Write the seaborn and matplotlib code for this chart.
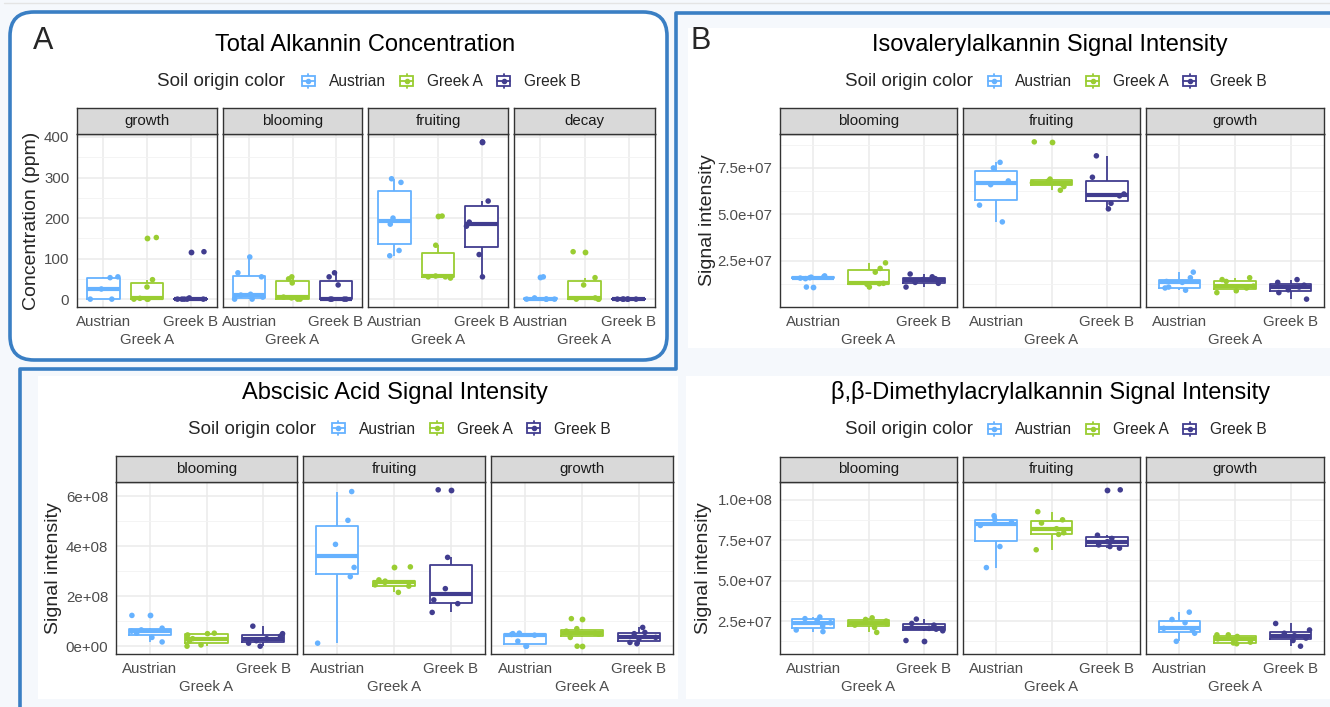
import matplotlib
matplotlib.use('Agg')

import numpy as np
import pandas as pd
import matplotlib.pyplot as plt
import seaborn as sns
from matplotlib.patches import FancyBboxPatch, Rectangle, Patch
from matplotlib.lines import Line2D
from matplotlib.legend_handler import HandlerBase
from matplotlib.ticker import FixedLocator, AutoMinorLocator, FuncFormatter

np.random.seed(7)

# DATA
SOILS = ["Austrian", "Greek A", "Greek B"]
PAL = ["#66b2ff", "#9acd32", "#413d8f"]

# total alkannin (ppm)
ALK_STAGES = ["growth", "blooming", "fruiting", "decay"]
alk_growth = [[0, 0, 25, 53, 55], [0, 0, 0, 2, 30, 48, 152], [0, 0, 0, 0, 0, 3, 117]]
alk_blooming = [[0, 0, 5, 10, 12, 55, 65, 104], [0, 0, 3, 5, 40, 50, 55], [0, 0, 0, 0, 35, 55, 65]]
alk_fruiting = [[107, 120, 185, 200, 288, 297], [52, 55, 55, 57, 133, 205], [55, 110, 180, 190, 242, 388]]
alk_decay = [[0, 0, 0, 0, 3, 55], [0, 0, 0, 3, 35, 53, 117], [0, 0, 0, 0, 0, 0]]

# isovalerylalkannin signal
ISO_STAGES = ["blooming", "fruiting", "growth"]
iso_blooming = [[1.1e7, 1.55e7, 1.58e7, 1.6e7, 1.63e7, 1.65e7, 1.7e7],
                [1.1e7, 1.25e7, 1.28e7, 1.3e7, 1.9e7, 2.1e7, 2.4e7],
                [1.1e7, 1.3e7, 1.35e7, 1.5e7, 1.55e7, 1.65e7, 1.8e7]]
iso_fruiting = [[4.6e7, 5.5e7, 6.6e7, 6.8e7, 7.5e7, 7.8e7],
                [6.3e7, 6.5e7, 6.65e7, 6.7e7, 6.8e7, 6.9e7, 8.9e7],
                [5.3e7, 5.6e7, 6.0e7, 6.1e7, 7.0e7, 8.15e7]]
iso_growth = [[0.93e7, 1.05e7, 1.1e7, 1.35e7, 1.4e7, 1.6e7, 1.9e7],
              [0.8e7, 0.9e7, 1.05e7, 1.15e7, 1.4e7, 1.5e7, 1.6e7],
              [0.45e7, 0.8e7, 0.95e7, 1.1e7, 1.2e7, 1.35e7, 1.5e7]]

# abscisic acid signal
aba_blooming = [[0.17e8, 0.35e8, 0.52e8, 0.6e8, 0.65e8, 0.72e8, 1.23e8],
                [0.0, 0.05e8, 0.2e8, 0.3e8, 0.45e8, 0.5e8, 0.52e8],
                [0.0, 0.12e8, 0.22e8, 0.3e8, 0.4e8, 0.5e8, 0.8e8]]
aba_fruiting = [[0.12e8, 2.78e8, 3.15e8, 4.07e8, 5.03e8, 6.18e8],
                [2.15e8, 2.4e8, 2.45e8, 2.55e8, 2.6e8, 2.65e8, 3.17e8],
                [1.35e8, 1.7e8, 1.85e8, 2.3e8, 3.55e8, 6.25e8]]
aba_growth = [[0.0, 0.0, 0.2e8, 0.44e8, 0.47e8, 0.5e8, 0.52e8],
              [0.0, 0.35e8, 0.48e8, 0.52e8, 0.6e8, 0.7e8, 1.1e8],
              [0.1e8, 0.15e8, 0.3e8, 0.35e8, 0.5e8, 0.55e8, 0.75e8]]

# b,b-dimethylacrylalkannin signal
dma_blooming = [[1.85e7, 1.95e7, 2.2e7, 2.4e7, 2.55e7, 2.65e7, 2.75e7],
                [1.8e7, 2.1e7, 2.25e7, 2.35e7, 2.5e7, 2.6e7, 2.7e7],
                [1.3e7, 1.9e7, 2.0e7, 2.05e7, 2.25e7, 2.35e7, 2.62e7]]
dma_fruiting = [[5.8e7, 7.1e7, 8.4e7, 8.6e7, 8.75e7, 9.0e7],
                [6.9e7, 7.85e7, 7.95e7, 8.2e7, 8.55e7, 8.75e7, 9.25e7],
                [7.0e7, 7.1e7, 7.2e7, 7.4e7, 7.6e7, 7.8e7, 10.6e7]]
dma_growth = [[1.25e7, 1.75e7, 1.95e7, 2.05e7, 2.4e7, 2.6e7, 3.05e7],
              [1.1e7, 1.15e7, 1.2e7, 1.4e7, 1.55e7, 1.65e7, 1.65e7],
              [0.95e7, 1.3e7, 1.45e7, 1.6e7, 1.75e7, 1.95e7, 2.35e7]]

# LAYOUT
W, H = 1330, 707
sns.set_style("white")
plt.rcParams["font.family"] = ["Liberation Sans", "DejaVu Sans"]

fig = plt.figure(figsize=(W / 100, H / 100), dpi=100, facecolor="#f5f8fc")
BLUE = "#3a7fc4"
TICK_FS = 10.8


def frac(x0, y0, x1, y1):
    return [x0 / W, 1 - y1 / H, (x1 - x0) / W, (y1 - y0) / H]


def fx(x):
    return x / W


def fy(y):
    return 1 - y / H


# backgrounds and frames (behind the axes)
for (x0, y0, x1, y1) in [(688, 28, 1330, 348), (38, 376, 678, 699), (686, 376, 1330, 699)]:
    fig.patches.append(Rectangle((fx(x0), fy(y1)), fx(x1) - fx(x0), fy(y0) - fy(y1),
                                 transform=fig.transFigure, facecolor="white", edgecolor="none", zorder=-2))
fig.patches.append(FancyBboxPatch((fx(10), fy(360)), fx(667) - fx(10), fy(12) - fy(360),
                                  boxstyle="round,pad=0,rounding_size=0.018",
                                  transform=fig.transFigure, facecolor="white", edgecolor=BLUE,
                                  lw=2.6, zorder=-1, mutation_aspect=W / H))
fig.lines.append(Line2D([fx(1330), fx(676), fx(676), fx(20), fx(20)],
                        [fy(13), fy(13), fy(369), fy(369), fy(707)],
                        transform=fig.transFigure, color=BLUE, lw=2.6, zorder=-1))
fig.lines.append(Line2D([fx(4), fx(1330)], [fy(3), fy(3)], transform=fig.transFigure,
                        color="#e4e4e4", lw=1, zorder=-1))


class BoxKey(HandlerBase):
    def create_artists(self, legend, orig_handle, xdescent, ydescent, width, height, fontsize, trans):
        c = orig_handle.get_edgecolor()
        x0, y0 = -xdescent, -ydescent
        cx = x0 + width / 2
        wl = Line2D([cx, cx], [y0 - 0.25 * height, y0 + 1.25 * height], color=c, lw=1.3, transform=trans)
        rect = Rectangle((x0 + 0.1 * width, y0), 0.8 * width, height, facecolor="white",
                         edgecolor=c, lw=1.3, transform=trans)
        md = Line2D([x0 + 0.1 * width, x0 + 0.9 * width], [y0 + 0.5 * height] * 2, color=c, lw=1.3, transform=trans)
        dot = Line2D([cx], [y0 + 0.5 * height], marker="o", ms=3, color=c, transform=trans)
        return [wl, rect, md, dot]


def header(title, title_x, title_y, leg_title_x, key_x, leg_y):
    fig.text(fx(title_x), fy(title_y), title, ha="center", va="center", fontsize=17, color="black")
    fig.text(fx(leg_title_x), fy(leg_y), "Soil origin color", ha="left", va="center", fontsize=13.5)
    handles = [Patch(edgecolor=c, facecolor="white") for c in PAL]
    fig.legend(handles, SOILS, handler_map={Patch: BoxKey()}, loc="center left",
               bbox_to_anchor=(fx(key_x), fy(leg_y)), ncol=3, frameon=False, fontsize=11.2,
               borderpad=0, borderaxespad=0, handlelength=1.05, handleheight=0.6,
               handletextpad=0.8, columnspacing=0.8)


def facet_row(stages, groups_list, xranges, plot_y, strip_y, yticks, fmt, ylabel, ylabel_x):
    first = None
    for stage, groups, (x0, x1) in zip(stages, groups_list, xranges):
        df = pd.DataFrame({
            "soil": np.repeat(SOILS, [len(g) for g in groups]),
            "value": np.concatenate(groups),
        })
        ax = fig.add_axes(frac(x0, plot_y[0], x1, plot_y[1]), sharey=first)
        ax.set_facecolor("white")
        sns.boxplot(data=df, x="soil", y="value", hue="soil", order=SOILS, hue_order=SOILS,
                    palette=PAL, fill=False, width=0.75, linewidth=1.3, showcaps=False,
                    medianprops={"linewidth": 3},
                    flierprops={"marker": "o", "markersize": 4.2},
                    legend=False, ax=ax)
        # ggplot style: white box fill, solid outlier dots
        for ln in list(ax.lines):
            if ln.get_marker() == "o":
                ln.set_markerfacecolor(ln.get_markeredgecolor())
                ln.set_markeredgewidth(0)
            elif len(ln.get_xdata()) == 5:
                ax.fill(ln.get_xdata(), ln.get_ydata(), color="white", zorder=ln.get_zorder() - 0.1)
        sns.stripplot(data=df, x="soil", y="value", hue="soil", order=SOILS, hue_order=SOILS,
                      palette=PAL, jitter=0.35, size=4, linewidth=0, legend=False, ax=ax, zorder=3)
        ax.set_xlim(-0.6, 2.6)
        ax.set_xlabel("")
        ax.set_ylabel("")
        # two-row category labels: middle one dodged down
        ax.xaxis.set_major_locator(FixedLocator([0, 2]))
        ax.set_xticklabels([SOILS[0], SOILS[2]])
        ax.xaxis.set_minor_locator(FixedLocator([1]))
        ax.xaxis.set_minor_formatter(FuncFormatter(lambda v, p: SOILS[1]))
        ax.yaxis.set_major_locator(FixedLocator(yticks))
        ax.yaxis.set_major_formatter(FuncFormatter(fmt))
        ax.yaxis.set_minor_locator(AutoMinorLocator(2))
        ax.set_axisbelow(True)
        ax.grid(which="major", color="#ebebeb", lw=1.1)
        ax.grid(which="minor", axis="x", color="#ebebeb", lw=1.1)
        ax.grid(which="minor", axis="y", color="#f3f3f3", lw=0.6)
        ax.tick_params(which="major", length=3.5, width=1, color="#333333", labelcolor="#4d4d4d",
                       labelsize=TICK_FS, pad=2)
        ax.tick_params(axis="x", which="minor", length=3.5, width=1, color="#333333",
                       labelcolor="#4d4d4d", labelsize=TICK_FS, pad=15)
        ax.tick_params(axis="y", which="minor", length=0)
        for s in ax.spines.values():
            s.set_color("#333333")
            s.set_linewidth(1)
        if first is None:
            first = ax
        else:
            ax.tick_params(axis="y", left=False, labelleft=False)

        sax = fig.add_axes(frac(x0, strip_y[0], x1, strip_y[1]))
        sax.set_facecolor("#d9d9d9")
        sax.set_xticks([])
        sax.set_yticks([])
        for s in sax.spines.values():
            s.set_color("#333333")
            s.set_linewidth(1)
        sax.text(0.5, 0.5, stage, ha="center", va="center", fontsize=TICK_FS, color="#1a1a1a",
                 transform=sax.transAxes)
    fig.text(fx(ylabel_x), fy((plot_y[0] + plot_y[1]) / 2), ylabel, rotation=90,
             ha="center", va="center", fontsize=14)


fmt_int = lambda v, p: f"{v:.0f}"
fmt_1e = lambda v, p: f"{v:.1e}"
fmt_0e = lambda v, p: f"{v:.0e}"

# PANEL A: total alkannin
fig.text(fx(43), fy(41), "A", ha="center", va="center", fontsize=22)
header("Total Alkannin Concentration", 365, 45, 157, 300, 82)
facet_row(ALK_STAGES, [alk_growth, alk_blooming, alk_fruiting, alk_decay],
          [(77, 217), (223, 362), (368, 508), (514, 655)], (134, 307), (108, 134),
          [0, 100, 200, 300, 400], fmt_int, "Concentration (ppm)", 32)

# PANEL B: isovalerylalkannin
fig.text(fx(701), fy(41), "B", ha="center", va="center", fontsize=22)
header("Isovalerylalkannin Signal Intensity", 1050, 45, 845, 986, 82)
facet_row(ISO_STAGES, [iso_blooming, iso_fruiting, iso_growth],
          [(780, 957), (963, 1140), (1146, 1324)], (134, 307), (108, 134),
          [2.5e7, 5.0e7, 7.5e7], fmt_1e, "Signal intensity", 707)

# abscisic acid
header("Abscisic Acid Signal Intensity", 395, 393, 188, 330, 429)
facet_row(ISO_STAGES, [aba_blooming, aba_fruiting, aba_growth],
          [(116, 297), (303, 485), (491, 673)], (482, 654), (456, 482),
          [0, 2e8, 4e8, 6e8], fmt_0e, "Signal intensity", 54)

# dimethylacrylalkannin
header("β,β-Dimethylacrylalkannin Signal Intensity", 1051, 393, 845, 986, 430)
facet_row(ISO_STAGES, [dma_blooming, dma_fruiting, dma_growth],
          [(780, 957), (963, 1140), (1146, 1324)], (482, 654), (457, 482),
          [2.5e7, 5.0e7, 7.5e7, 1.0e8], fmt_1e, "Signal intensity", 704)

fig.savefig("out.png", dpi=100, facecolor=fig.get_facecolor())
